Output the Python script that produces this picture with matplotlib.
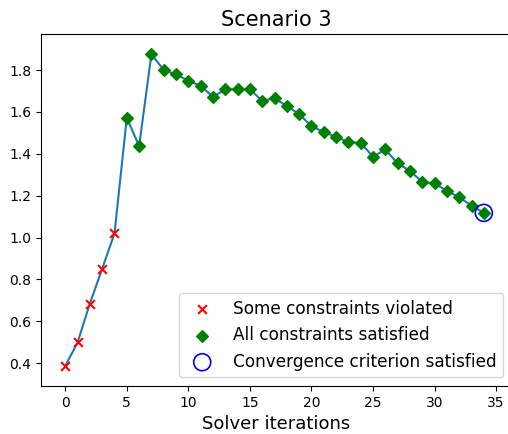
import numpy as np
import matplotlib.pyplot as plt

# objective value at each solver iteration
values = [0.387, 0.499, 0.685, 0.851, 1.020, 1.572, 1.437, 1.876, 1.800, 1.779,
          1.749, 1.725, 1.672, 1.708, 1.708, 1.708, 1.653, 1.666, 1.628, 1.590,
          1.532, 1.504, 1.481, 1.456, 1.453, 1.386, 1.421, 1.354, 1.319, 1.265,
          1.259, 1.223, 1.192, 1.153, 1.118]
iters = np.arange(len(values))
violated = [0, 1, 2, 3, 4]          # iterations with some constraints violated
converged = 34                      # iteration where convergence is reached

values = np.array(values)
satisfied = [i for i in iters if i not in violated]

fig = plt.figure(figsize=(5.08, 4.34), dpi=100)
# axes run slightly past the right edge, as in the cropped original
ax = fig.add_axes([0.0807, 0.111, 0.926, 0.810])

ax.plot(iters, values, color='tab:blue', linewidth=1.5)
ax.scatter(iters[violated], values[violated], marker='x', color='red', s=40,
           zorder=3, label='Some constraints violated')
ax.scatter(iters[satisfied], values[satisfied], marker='D', color='green', s=36,
           zorder=3, label='All constraints satisfied')
ax.scatter([converged], [values[converged]], marker='o', facecolors='none',
           edgecolors='blue', s=150, linewidths=1.2, zorder=4,
           label='Convergence criterion satisfied')

ax.set_xlim(-1.97, 36.24)
ax.set_ylim(0.292, 1.971)
ax.set_title('Scenario 3', fontsize=15)
ax.set_xlabel('Solver iterations', fontsize=13)
ax.legend(loc='lower right', fontsize=12.15)

fig.savefig('out.png', dpi=100)
